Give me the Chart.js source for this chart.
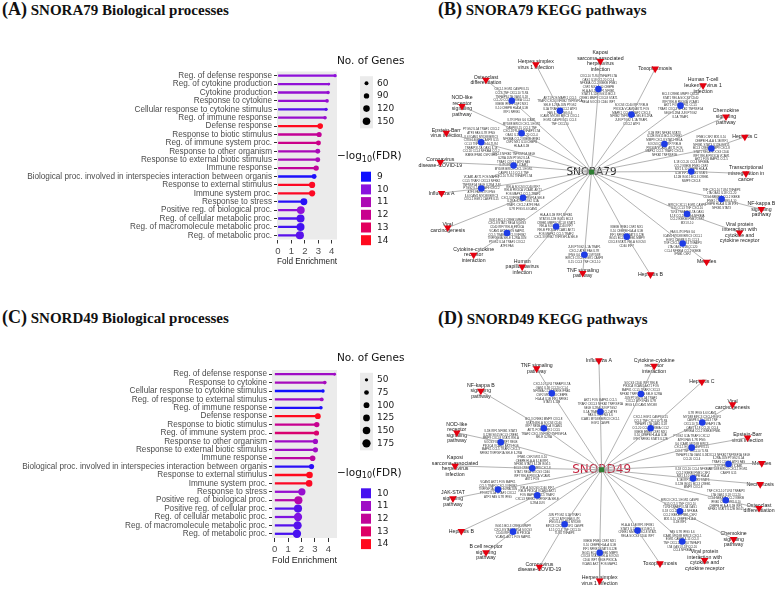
<!DOCTYPE html>
<html>
<head>
<meta charset="utf-8">
<script src="https://cdn.jsdelivr.net/npm/chart.js@4.4.1/dist/chart.umd.min.js"></script>
<style>
  body { margin: 0; background: #fff; width: 778px; height: 591px; overflow: hidden; position: relative; }
  canvas { position: absolute; }
  .ttl { position: absolute; font-family: 'Liberation Serif', 'Times New Roman', serif; font-weight: bold;
         font-size: 15px; line-height: 18px; color: #111; white-space: nowrap; }
  .ttl b { font-size: 18px; }
</style>
</head>
<body>
<div class="ttl" style="left:2px;top:0px"><b>(A)</b> SNORA79 Biological processes</div>
<div class="ttl" style="left:438px;top:0px"><b>(B)</b> SNORA79 KEGG pathways</div>
<div class="ttl" style="left:2px;top:308px"><b>(C)</b> SNORD49 Biological processes</div>
<div class="ttl" style="left:438px;top:309px"><b>(D)</b> SNORD49 KEGG pathways</div>

<canvas id="bpA" width="420" height="255" style="left:0;top:30px;width:420px;height:255px"></canvas>
<canvas id="bpC" width="420" height="263" style="left:0;top:328px;width:420px;height:263px"></canvas>
<canvas id="keggB" width="388" height="265" style="left:390px;top:30px;width:388px;height:265px"></canvas>
<canvas id="keggD" width="388" height="261" style="left:390px;top:330px;width:388px;height:261px"></canvas>

<script>
// ---- (A) SNORA79 biological processes ----
const termsA = ['Reg. of defense response', 'Reg. of cytokine production', 'Cytokine production',
  'Response to cytokine', 'Cellular response to cytokine stimulus', 'Reg. of immune response',
  'Defense response', 'Response to biotic stimulus', 'Reg. of immune system proc.',
  'Response to other organism', 'Response to external biotic stimulus', 'Immune response',
  'Biological proc. involved in interspecies interaction between organis',
  'Response to external stimulus', 'Immune system proc.', 'Response to stress',
  'Positive reg. of biological proc.', 'Reg. of cellular metabolic proc.',
  'Reg. of macromolecule metabolic proc.', 'Reg. of metabolic proc.'];
const foldA = [4.25, 3.78, 3.73, 3.65, 3.58, 3.50, 3.14, 3.06, 3.01, 2.96, 2.96, 2.84, 2.69, 2.54, 2.54, 1.93, 1.70, 1.68, 1.68, 1.63];
const fdrA = [10.1, 10.2, 10.3, 10.3, 9.6, 10.4, 14.0, 11.8, 12.1, 10.9, 10.9, 11.7, 9.1, 13.9, 13.9, 9.2, 10.2, 9.5, 9.4, 9.6];
const genesA = [50, 45, 50, 55, 50, 55, 95, 85, 80, 80, 80, 90, 80, 110, 110, 130, 160, 165, 165, 170];
const sizeKeysA = [60, 90, 120, 150];
const fdrKeysA = [9, 10, 11, 12, 13, 14];

// ---- (C) SNORD49 biological processes ----
const termsC = ['Reg. of defense response', 'Response to cytokine', 'Cellular response to cytokine stimulus',
  'Reg. of response to external stimulus', 'Reg. of immune response', 'Defense response',
  'Response to biotic stimulus', 'Reg. of immune system proc.', 'Response to other organism',
  'Response to external biotic stimulus', 'Immune response',
  'Biological proc. involved in interspecies interaction between organis',
  'Response to external stimulus', 'Immune system proc.', 'Response to stress',
  'Positive reg. of biological proc.', 'Positive reg. of cellular proc.',
  'Reg. of cellular metabolic proc.', 'Reg. of macromolecule metabolic proc.', 'Reg. of metabolic proc.'];
const foldC = [4.47, 3.74, 3.61, 3.51, 3.45, 3.22, 3.14, 3.12, 3.04, 3.04, 2.83, 2.75, 2.60, 2.57, 2.03, 1.77, 1.74, 1.74, 1.71, 1.66];
const fdrC = [11.0, 11.2, 9.6, 11.0, 9.7, 14.0, 12.2, 12.8, 11.0, 11.0, 11.8, 9.8, 14.0, 13.9, 10.8, 11.6, 10.1, 10.4, 10.1, 10.0];
const genesC = [45, 55, 50, 60, 55, 100, 90, 85, 85, 85, 95, 85, 120, 120, 140, 170, 170, 175, 175, 180];
const sizeKeysC = [50, 75, 100, 125, 150, 175];
const fdrKeysC = [10, 11, 12, 13, 14];

// ---- (B) SNORA79 KEGG network: angle (deg) and distance from hub ----
const pathwaysB = ['Herpes simplex\nvirus 1 infection', 'Kaposi\nsarcoma-associated\nherpesvirus\ninfection',
  'Toxoplasmosis', 'Osteoclast\ndifferentiation', 'Human T-cell\nleukemia virus 1\ninfection',
  'NOD-like\nreceptor\nsignaling\npathway', 'Chemokine\nsignaling\npathway', 'Epstein-Barr\nvirus infection',
  'Hepatitis C', 'Coronavirus\ndisease-COVID-19', 'Transcriptional\nmisregulation in\ncancer', 'Influenza A',
  'NF-kappa B\nsignaling\npathway', 'Viral\ncarcinogenesis',
  'Viral protein\ninteraction with\ncytokine and\ncytokine receptor', 'Cytokine-cytokine\nreceptor\ninteraction',
  'Measles', 'Human\npapillomavirus\ninfection', 'TNF signaling\npathway', 'Hepatitis B'];
const geneAngB = [117.1, 85.3, 55.5, 137.9, 37.0, 150.8, 21.2, 164.8, 11.2, 175.2, 0.3, 188.6, -11.9, 200.9, -24.0, 216.1, -38.4, 237.3, 265.1, -61.7];
const geneDistB = [71, 86, 72, 110, 114, 82, 80, 117, 125, 80, 102, 114, 136, 75, 107, 107, 119, 67, 86, 76];
const pathAngB = [117.1, 85.5, 58.6, 138.6, 38.1, 152.8, 22.6, 164.8, 13.0, 176.3, -0.6, 188.1, -12.5, 201.4, -22.5, 215.4, -38.3, 234.1, 265.1, -60.4];
const pathDistB = [125, 115, 125, 144, 145, 149, 149, 154, 161, 155, 158, 155, 178, 158, 164, 148, 150, 121, 105, 122];
const geneCountB = [30, 32, 22, 26, 26, 30, 26, 32, 28, 28, 22, 28, 22, 28, 22, 30, 26, 28, 20, 22];

// ---- (D) SNORD49 KEGG network ----
const pathwaysD = ['Influenza A', 'TNF signaling\npathway', 'Cytokine-cytokine\nreceptor\ninteraction', 'Hepatitis C',
  'NF-kappa B\nsignaling\npathway', 'Viral\ncarcinogenesis', 'NOD-like\nreceptor\nsignaling\npathway',
  'Epstein-Barr\nvirus infection', 'Kaposi\nsarcoma-associated\nherpesvirus\ninfection', 'Measles', 'Necroptosis',
  'JAK-STAT\nsignaling\npathway', 'Osteoclast\ndifferentiation', 'Hepatitis B', 'Chemokine\nsignaling\npathway',
  'B cell receptor\nsignaling\npathway', 'Viral protein\ninteraction with\ncytokine and\ncytokine receptor',
  'Toxoplasmosis', 'Coronavirus\ndisease-COVID-19', 'Herpes simplex\nvirus 1 infection'];
const geneAngD = [91.2, 122.8, 62.8, 40.5, 144.1, 25.4, 164.6, 13.9, 178.9, 2.6, -5.5, 191.0, -14.0, 202.0, -28.3, 215.3, -42.0, -59.7, 236.2, 268.7];
const geneDistD = [60, 94, 88, 66, 73, 114, 107, 95, 71, 130, 94, 108, 131, 71, 91, 111, 111, 73, 68, 86];
const pathAngD = [91.4, 122.4, 63.4, 41.5, 146.6, 26.7, 165.5, 12.5, 178.5, 2.3, -5.3, 191.1, -13.9, 203.9, -28.0, 215.9, -41.6, -58.4, 237.7, 269.0];
const pathDistD = [113, 124, 120, 137, 148, 150, 153, 153, 150, 164, 163, 155, 166, 157, 153, 146, 141, 114, 119, 115];
const geneCountD = [26, 22, 28, 28, 22, 24, 28, 26, 26, 22, 22, 20, 24, 18, 26, 16, 22, 16, 22, 28];

const genePool = ['AKT1', 'CXCL8', 'IL1B', 'NFKBIA', 'TNF', 'IL6', 'JUN', 'FOS', 'STAT1', 'IRF1', 'CCL2', 'CXCL10',
  'ICAM1', 'PTGS2', 'MAPK1', 'RELA', 'NFKB1', 'IKBKB', 'TLR4', 'MYD88', 'IL1A', 'CCL5', 'SOCS3', 'STAT3', 'IFNB1',
  'TNFAIP3', 'BIRC3', 'TRAF1', 'TRAF2', 'CD40', 'IL12B', 'CSF2', 'LTA', 'CXCL1', 'CXCL2', 'CXCL3', 'IRF7', 'ISG15',
  'MX1', 'OAS1', 'EGR1', 'ATF3', 'NFKB2', 'RELB', 'BCL3', 'IL10', 'IL18', 'CASP8', 'FAS', 'TNFRSF1A', 'PIK3CA',
  'CREB1', 'CEBPB', 'CCL20', 'IL15', 'IL7R', 'SELE', 'VCAM1', 'MMP9', 'HLA-A', 'CCL4', 'CCL3', 'IFNG', 'IL2RA'];

const fdrGradient = ['#1010ff', '#8a12de', '#ad0ab4', '#c8008e', '#e2005e', '#ff0a1e'];
const SANS = "'Liberation Sans', Arial, sans-serif";
const DEJA = "'DejaVu Sans', sans-serif";

function hexToRgb(h) {
  return [parseInt(h.slice(1, 3), 16), parseInt(h.slice(3, 5), 16), parseInt(h.slice(5, 7), 16)];
}

function fdrColor(v, lo, hi) {
  let t = Math.max(0, Math.min(1, (v - lo) / (hi - lo))) * (fdrGradient.length - 1);
  const i = Math.min(Math.floor(t), fdrGradient.length - 2);
  const f = t - i;
  const a = hexToRgb(fdrGradient[i]), b = hexToRgb(fdrGradient[i + 1]);
  return 'rgb(' + a.map((c, k) => Math.round(c + (b[k] - c) * f)).join(',') + ')';
}

// point area grows linearly with gene count, like ggplot's scale_size
function dotRadius(n) {
  const t = (n - 40) / 140;
  return Math.sqrt(1.6 + t * 16);
}

function lollipop(id, terms, fold, fdr, genes, opt) {
  const colors = fdr.map(v => fdrColor(v, opt.lo, opt.hi));

  const panelBg = {
    id: 'panelBg',
    beforeDraw(chart) {
      const a = chart.chartArea, ctx = chart.ctx;
      ctx.save();
      ctx.fillStyle = '#ebebeb';
      ctx.fillRect(a.left, a.top, a.right - a.left, a.bottom - a.top);
      ctx.restore();
    },
    afterDraw(chart) {
      // size and colour legends on the right
      const ctx = chart.ctx, lx = 337;
      ctx.save();
      ctx.fillStyle = '#111';
      ctx.textBaseline = 'middle';
      ctx.textAlign = 'left';
      ctx.font = '10.5px ' + DEJA;
      ctx.fillText('No. of Genes', lx, opt.sizeTitleY);
      const sy = opt.sizeTitleY + 21.5;
      const step = 12.7;
      ctx.fillStyle = '#ebebeb';
      ctx.fillRect(360, sy - 7, 13, step * (opt.sizeKeys.length - 1) + 14);
      ctx.font = '9px ' + DEJA;
      opt.sizeKeys.forEach((n, i) => {
        const y = sy + i * step;
        ctx.fillStyle = '#000';
        ctx.beginPath();
        ctx.arc(366.5, y, dotRadius(n), 0, Math.PI * 2);
        ctx.fill();
        ctx.fillStyle = '#222';
        ctx.fillText(String(n), 377, y);
      });

      const fy = opt.fdrTitleY;
      ctx.fillStyle = '#111';
      ctx.font = '10.5px ' + DEJA;
      ctx.fillText('\u2212log', lx, fy);
      let w = ctx.measureText('\u2212log').width;
      ctx.font = '8px ' + DEJA;
      ctx.fillText('10', lx + w, fy + 3);
      w += ctx.measureText('10').width;
      ctx.font = '10.5px ' + DEJA;
      ctx.fillText('(FDR)', lx + w, fy);

      ctx.font = '9px ' + DEJA;
      opt.fdrKeys.forEach((v, i) => {
        const y = fy + 20 + i * step;
        ctx.fillStyle = fdrColor(v, opt.lo, opt.hi);
        ctx.fillRect(361, y - 5, 10, 10);
        ctx.fillStyle = '#222';
        ctx.fillText(String(v), 377, y);
      });
      ctx.restore();
    }
  };

  return new Chart(document.getElementById(id), {
    type: 'bar',
    data: {
      labels: terms,
      datasets: [
        {
          type: 'line',
          indexAxis: 'y',
          data: fold,
          showLine: false,
          pointRadius: genes.map(dotRadius),
          pointBackgroundColor: colors,
          pointBorderWidth: 0,
          order: 0
        },
        {
          data: fold,
          backgroundColor: colors,
          barThickness: 1.6,
          order: 1
        }
      ]
    },
    options: {
      indexAxis: 'y',
      responsive: false,
      animation: false,
      layout: { padding: { top: opt.padTop, right: 83, bottom: opt.padBottom, left: 0 } },
      plugins: { legend: { display: false }, tooltip: { enabled: false } },
      scales: {
        x: {
          type: 'linear',
          min: opt.xmin,
          max: opt.xmax,
          afterFit: s => { s.height = 28; },
          ticks: { stepSize: 1, includeBounds: false, autoSkip: false, color: '#4d4d4d',
                   font: { size: 9.5, family: SANS }, padding: 2, maxRotation: 0 },
          grid: { drawOnChartArea: false, tickLength: 4, tickColor: '#333' },
          border: { display: false },
          title: { display: true, text: 'Fold Enrichment', color: '#222', font: { size: 9.5, family: SANS }, padding: 0 }
        },
        y: {
          afterFit: s => { s.width = opt.yWidth; },
          ticks: { autoSkip: false, color: '#4d4d4d', font: { size: 8.2, family: SANS }, padding: 2 },
          grid: { drawOnChartArea: false, offset: false, tickLength: 3, tickColor: '#333' },
          border: { display: false }
        }
      }
    },
    plugins: [panelBg]
  });
}

function polar(angle, dist) {
  const a = angle * Math.PI / 180;
  return { x: dist * Math.cos(a), y: dist * Math.sin(a) };
}

function network(id, hub, names, gAng, gDist, pAng, pDist, gCount, bounds, hubStyle) {
  const geneNodes = gAng.map((a, i) => polar(a, gDist[i]));
  const pathNodes = pAng.map((a, i) => polar(a, pDist[i]));
  const edges = [];
  names.forEach((n, i) => {
    edges.push({ x: 0, y: 0 }, geneNodes[i], pathNodes[i], { x: null, y: null });
  });

  const labels = {
    id: 'netLabels',
    beforeDatasetsDraw(chart) {
      const ctx = chart.ctx, sx = chart.scales.x, sy = chart.scales.y;
      ctx.save();
      ctx.textAlign = 'center';
      ctx.textBaseline = 'middle';
      // gene lists around each gene node
      ctx.fillStyle = '#333';
      ctx.font = '2.9px ' + SANS;
      let k = 0;
      geneNodes.forEach((p, i) => {
        const words = [];
        for (let j = 0; j < gCount[i]; j++) words.push(genePool[(k + j * 7) % genePool.length]);
        k += 11;
        const lines = [];
        for (let j = 0; j < words.length; j += 4) lines.push(words.slice(j, j + 4).join(' '));
        const px = sx.getPixelForValue(p.x), py = sy.getPixelForValue(p.y);
        lines.forEach((l, j) => ctx.fillText(l, px, py + (j - (lines.length - 1) / 2) * 3.7));
      });
      // pathway names
      ctx.fillStyle = '#222';
      ctx.font = '5.2px ' + SANS;
      pathNodes.forEach((p, i) => {
        const lines = names[i].split('\n');
        const px = sx.getPixelForValue(p.x), py = sy.getPixelForValue(p.y);
        lines.forEach((l, j) => ctx.fillText(l, px, py + (j - (lines.length - 1) / 2) * 5.6));
      });
      // hub name
      ctx.fillStyle = hubStyle.color;
      ctx.font = hubStyle.size + 'px ' + DEJA;
      ctx.fillText(hub, sx.getPixelForValue(0), sy.getPixelForValue(0));
      ctx.restore();
    }
  };

  return new Chart(document.getElementById(id), {
    type: 'scatter',
    data: {
      datasets: [
        { data: [{ x: 0, y: 0 }], pointStyle: 'rect', pointRadius: 3.6, backgroundColor: '#2e7d32', borderWidth: 0, order: 0 },
        { data: pathNodes, pointStyle: 'triangle', rotation: 180, pointRadius: 4.4, backgroundColor: '#e4000f', borderWidth: 0, order: 1 },
        { data: geneNodes, pointStyle: 'circle', pointRadius: 3.3, backgroundColor: '#1e3ce6', borderWidth: 0, order: 2 },
        { data: edges, showLine: true, spanGaps: false, pointRadius: 0, borderColor: '#a0a0a0', borderWidth: 0.8, order: 3 }
      ]
    },
    options: {
      responsive: false,
      animation: false,
      layout: { padding: 0 },
      plugins: { legend: { display: false }, tooltip: { enabled: false } },
      scales: {
        x: { type: 'linear', display: false, min: bounds[0], max: bounds[1] },
        y: { type: 'linear', display: false, min: bounds[2], max: bounds[3] }
      }
    },
    plugins: [labels]
  });
}

lollipop('bpA', termsA, foldA, fdrA, genesA, {
  lo: 9, hi: 14, xmin: -0.07, xmax: 4.39, yWidth: 277, padTop: 41.5, padBottom: 17.5,
  sizeKeys: sizeKeysA, fdrKeys: fdrKeysA, sizeTitleY: 31.7, fdrTitleY: 126.7
});
lollipop('bpC', termsC, foldC, fdrC, genesC, {
  lo: 9.6, hi: 14, xmin: -0.2, xmax: 4.65, yWidth: 272, padTop: 42, padBottom: 25,
  sizeKeys: sizeKeysC, fdrKeys: fdrKeysC, sizeTitleY: 30.3, fdrTitleY: 145.3
});
network('keggB', 'SNORA79', pathwaysB, geneAngB, geneDistB, pathAngB, pathDistB, geneCountB,
  [-201.7, 186.3, -122.7, 142.3], { color: '#222', size: 10.5 });
network('keggD', 'SNORD49', pathwaysD, geneAngD, geneDistD, pathAngD, pathDistD, geneCountD,
  [-212, 176, -121, 140], { color: '#c41e3a', size: 12 });
</script>
</body>
</html>
